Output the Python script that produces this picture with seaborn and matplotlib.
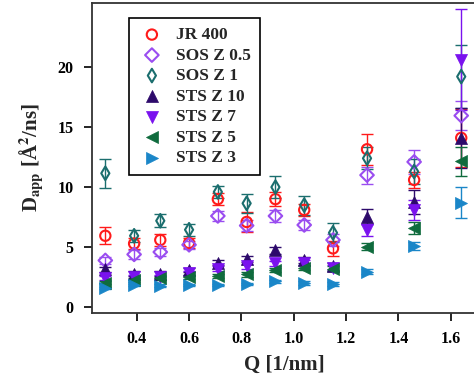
import numpy as np
import pandas as pd
import matplotlib
matplotlib.use("Agg")
import matplotlib.pyplot as plt
import seaborn as sns

# Scattering vector (1/nm)
q = [0.28, 0.39, 0.49, 0.60, 0.71, 0.82, 0.93, 1.04, 1.15, 1.28, 1.46, 1.64]

# Apparent diffusion coefficients (Å^2/ns) and their uncertainties
jr400 = [5.95, 5.3, 5.6, 5.35, 9.0, 7.1, 9.0, 8.1, 4.9, 13.15, 10.6, 14.1]
jr400_err = [0.7, 0.45, 0.5, 0.45, 0.5, 0.8, 0.6, 0.5, 0.6, 1.3, 0.7, 2.4]

sos_z05 = [3.9, 4.4, 4.6, 5.2, 7.6, 6.8, 7.6, 6.85, 5.6, 11.0, 12.1, 15.95]
sos_z05_err = [0.3, 0.35, 0.35, 0.35, 0.4, 0.45, 0.5, 0.4, 0.5, 0.7, 1.0, 1.2]

sos_z1 = [11.15, 5.95, 7.2, 6.45, 9.6, 8.65, 10.0, 8.5, 6.2, 12.4, 11.3, 19.2]
sos_z1_err = [1.2, 0.5, 0.55, 0.5, 0.5, 0.8, 0.9, 0.8, 0.8, 0.9, 1.0, 2.6]

sts_z10 = [3.15, 2.8, 2.8, 3.1, 3.7, 4.05, 4.75, 3.95, 3.4, 7.55, 8.8, 14.1]
sts_z10_err = [0.2, 0.2, 0.2, 0.2, 0.2, 0.25, 0.3, 0.25, 0.3, 0.6, 1.0, 2.5]

sts_z7 = [2.45, 2.5, 2.5, 2.85, 3.2, 3.4, 3.65, 3.7, 3.3, 6.45, 8.1, 20.6]
sts_z7_err = [0.15, 0.15, 0.15, 0.15, 0.2, 0.2, 0.2, 0.2, 0.25, 0.5, 0.8, 4.2]

sts_z5 = [2.05, 2.25, 2.4, 2.5, 2.6, 2.75, 3.1, 3.3, 3.2, 5.05, 6.6, 12.15]
sts_z5_err = [0.15, 0.15, 0.15, 0.15, 0.15, 0.2, 0.2, 0.2, 0.2, 0.3, 0.5, 1.2]

sts_z3 = [1.6, 1.85, 1.8, 1.85, 1.85, 1.95, 2.15, 2.0, 1.95, 2.95, 5.1, 8.7]
sts_z3_err = [0.1, 0.1, 0.1, 0.1, 0.1, 0.1, 0.15, 0.15, 0.15, 0.2, 0.3, 1.3]

series_names = ["JR 400", "SOS Z 0.5", "SOS Z 1", "STS Z 10", "STS Z 7", "STS Z 5", "STS Z 3"]
series_vals = [jr400, sos_z05, sos_z1, sts_z10, sts_z7, sts_z5, sts_z3]
series_errs = [jr400_err, sos_z05_err, sos_z1_err, sts_z10_err, sts_z7_err, sts_z5_err, sts_z3_err]

colors = ["#ff1a1a", "#9a4df0", "#1b6e6e", "#2d0a6b", "#7a12ee", "#0f6b3d", "#1a86c8"]
markers = ["o", "D", "d", "^", "v", "<", ">"]
open_marker = [True, True, True, False, False, False, False]
sizes = [55, 48, 48, 75, 75, 75, 75]

df = pd.concat(
    [pd.DataFrame({"Q": q, "D": v, "err": e, "sample": n})
     for n, v, e in zip(series_names, series_vals, series_errs)],
    ignore_index=True,
)

sns.set_style("ticks")
plt.rcParams["font.family"] = ["Liberation Serif", "DejaVu Serif"]
plt.rcParams["font.weight"] = "bold"
plt.rcParams["mathtext.fontset"] = "stix"

fig = plt.figure(figsize=(4.74, 3.83), dpi=100)
ax = fig.add_axes([0.1935, 0.1836, 0.8127, 0.8078])

for i, name in enumerate(series_names):
    sub = df[df["sample"] == name]
    ax.errorbar(sub["Q"], sub["D"], yerr=sub["err"], fmt="none",
                ecolor=colors[i], elinewidth=1.0, capsize=4, capthick=1.0,
                zorder=2 + i * 0.1)
    kw = dict(facecolor="none", edgecolor=colors[i], linewidth=1.5) if open_marker[i] \
        else dict(edgecolor=colors[i], linewidth=0.5)
    sns.scatterplot(data=sub, x="Q", y="D", ax=ax, marker=markers[i], s=sizes[i],
                    color=colors[i], label=name, zorder=3 + i * 0.1, **kw)

ax.set_xlim(0.228, 1.70)
ax.set_ylim(-0.45, 25.3)
ax.set_xticks([0.4, 0.6, 0.8, 1.0, 1.2, 1.4, 1.6])
ax.set_yticks([0, 5, 10, 15, 20])
ax.set_xticklabels(["0.4", "0.6", "0.8", "1.0", "1.2", "1.4", "1.6"])
ax.tick_params(axis="both", direction="out", length=6, width=1.2, labelsize=11.5,
               colors="black", pad=7)
for lab in ax.get_xticklabels() + ax.get_yticklabels():
    lab.set_fontweight("bold")
for sp in ax.spines.values():
    sp.set_color("#333333")
    sp.set_linewidth(1.3)

ax.set_xlabel("Q [1/nm]", fontsize=15, fontweight="bold", labelpad=6)
ax.set_ylabel(r"D$_{\mathbf{app}}$ [Å$^{\mathbf{2}}$/ns]", fontsize=15,
              fontweight="bold", labelpad=8)

leg = ax.legend(loc="upper left", bbox_to_anchor=(0.0976, 0.9515), borderaxespad=0,
                frameon=True, fancybox=False, edgecolor="black", framealpha=1,
                prop={"family": "Liberation Serif", "weight": "bold", "size": 12.5},
                labelspacing=0.25, handletextpad=0.6, borderpad=0.5,
                handlelength=1.6)
leg.get_frame().set_linewidth(1.2)

fig.savefig("out.png", dpi=100)
